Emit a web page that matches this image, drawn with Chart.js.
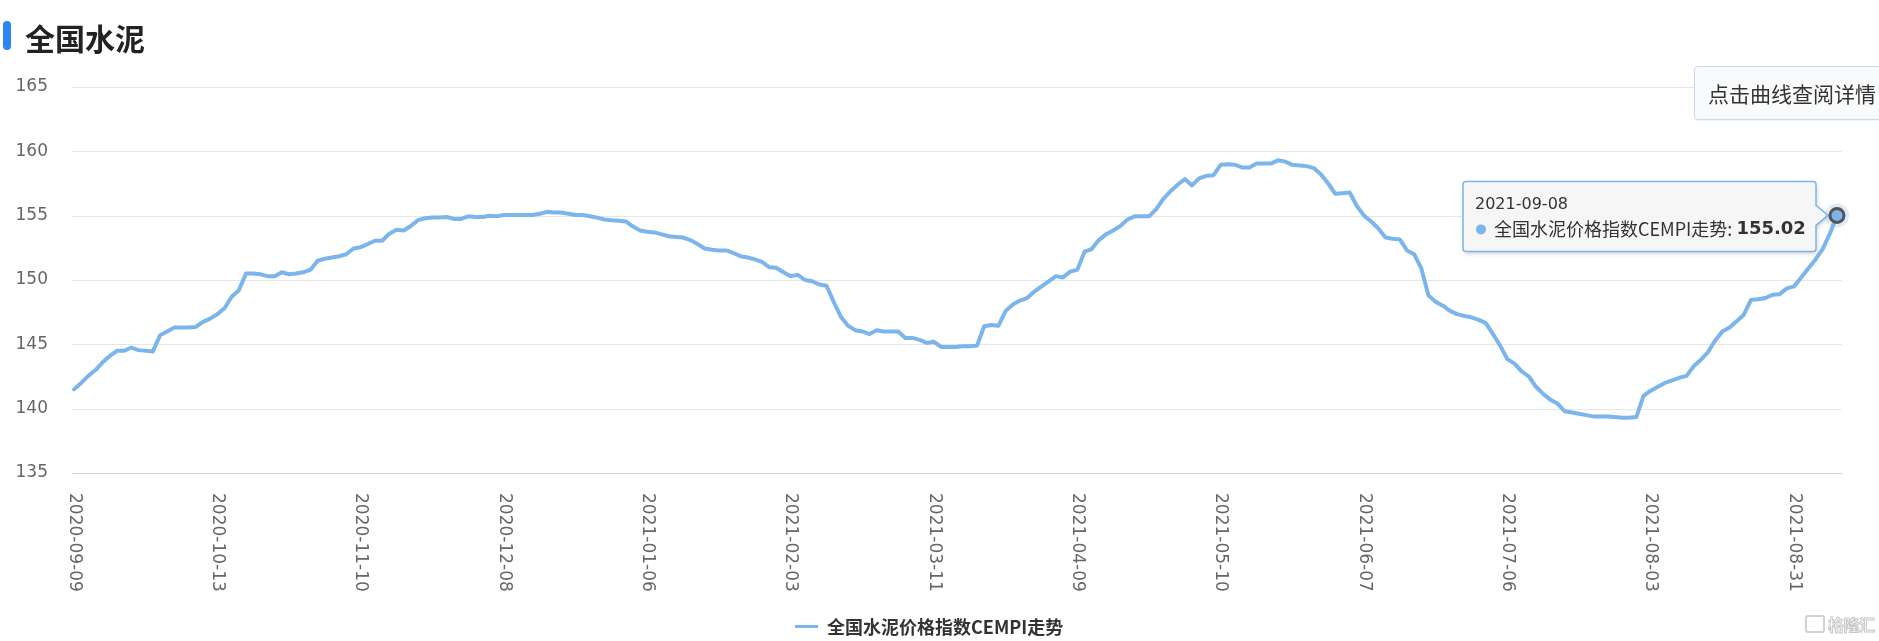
<!DOCTYPE html>
<html>
<head>
<meta charset="utf-8">
<script src="https://cdn.jsdelivr.net/npm/chart.js@4.4.1/dist/chart.umd.min.js"></script>
<style>
html,body{margin:0;padding:0;background:#fff;width:1879px;height:641px;overflow:hidden;}
#wrap{position:relative;width:1879px;height:641px;}
#c{position:absolute;left:0;top:0;}
.bar{position:absolute;left:3px;top:21px;width:8px;height:29px;border-radius:4px;background:#2b86f4;}
.title{position:absolute;left:25px;top:15px;font-weight:bold;font-size:30px;font-family:"Noto Sans CJK SC",sans-serif;color:#222;line-height:44px;white-space:nowrap;}
.btn{position:absolute;left:1694px;top:66px;width:210px;height:52px;border:1px solid #c6dbf1;border-radius:4px;background:#f9fafb;box-shadow:0 1px 2px rgba(0,0,0,0.06);}
.btn span{position:absolute;left:13px;top:0;line-height:52px;font-size:21px;font-family:"Noto Sans CJK SC",sans-serif;color:#333;white-space:nowrap;}
.legend{position:absolute;left:795px;top:613px;height:26px;display:flex;align-items:center;white-space:nowrap;}
.legend i{display:inline-block;width:23px;height:3px;background:#7cb5ec;margin-right:9px;}
.legend span{font-weight:bold;font-size:18px;font-family:"Noto Sans CJK SC",sans-serif;color:#333;}
.wm{position:absolute;left:1805px;top:612px;display:flex;align-items:center;white-space:nowrap;}
.wm b{display:inline-block;width:20px;height:18px;border:2px solid #d2d2d2;border-radius:3px;margin-right:3px;box-sizing:border-box;}
.wm span{font-size:16px;font-weight:bold;font-family:"Noto Sans CJK SC",sans-serif;color:#fff;-webkit-text-stroke:1px #c8c8c8;letter-spacing:-0.5px;}
</style>
</head>
<body>
<div id="wrap">
<canvas id="c" width="1879" height="641"></canvas>
<div class="bar"></div>
<div class="title">全国水泥</div>
<div class="btn"><span>点击曲线查阅详情</span></div>
<div class="legend"><i></i><span id="legendText"></span></div>
<div class="wm"><b></b><span>格隆汇</span></div>
</div>
<script>
const titleText = '全国水泥';
const seriesName = '全国水泥价格指数CEMPI走势';

const categories = [
'2020-09-09','2020-09-10','2020-09-11','2020-09-14','2020-09-15','2020-09-16','2020-09-17','2020-09-18','2020-09-21','2020-09-22',
'2020-09-23','2020-09-24','2020-09-25','2020-09-27','2020-09-28','2020-09-29','2020-09-30','2020-10-09','2020-10-10','2020-10-12',
'2020-10-13','2020-10-14','2020-10-15','2020-10-16','2020-10-19','2020-10-20','2020-10-21','2020-10-22','2020-10-23','2020-10-26',
'2020-10-27','2020-10-28','2020-10-29','2020-10-30','2020-11-02','2020-11-03','2020-11-04','2020-11-05','2020-11-06','2020-11-09',
'2020-11-10','2020-11-11','2020-11-12','2020-11-13','2020-11-16','2020-11-17','2020-11-18','2020-11-19','2020-11-20','2020-11-23',
'2020-11-24','2020-11-25','2020-11-26','2020-11-27','2020-11-30','2020-12-01','2020-12-02','2020-12-03','2020-12-04','2020-12-07',
'2020-12-08','2020-12-09','2020-12-10','2020-12-11','2020-12-14','2020-12-15','2020-12-16','2020-12-17','2020-12-18','2020-12-21',
'2020-12-22','2020-12-23','2020-12-24','2020-12-25','2020-12-28','2020-12-29','2020-12-30','2020-12-31','2021-01-04','2021-01-05',
'2021-01-06','2021-01-07','2021-01-08','2021-01-11','2021-01-12','2021-01-13','2021-01-14','2021-01-15','2021-01-18','2021-01-19',
'2021-01-20','2021-01-21','2021-01-22','2021-01-25','2021-01-26','2021-01-27','2021-01-28','2021-01-29','2021-02-01','2021-02-02',
'2021-02-03','2021-02-04','2021-02-05','2021-02-08','2021-02-09','2021-02-18','2021-02-19','2021-02-22','2021-02-23','2021-02-24',
'2021-02-25','2021-02-26','2021-03-01','2021-03-02','2021-03-03','2021-03-04','2021-03-05','2021-03-08','2021-03-09','2021-03-10',
'2021-03-11','2021-03-12','2021-03-15','2021-03-16','2021-03-17','2021-03-18','2021-03-19','2021-03-22','2021-03-23','2021-03-24',
'2021-03-25','2021-03-26','2021-03-29','2021-03-30','2021-03-31','2021-04-01','2021-04-02','2021-04-06','2021-04-07','2021-04-08',
'2021-04-09','2021-04-12','2021-04-13','2021-04-14','2021-04-15','2021-04-16','2021-04-19','2021-04-20','2021-04-21','2021-04-22',
'2021-04-23','2021-04-25','2021-04-26','2021-04-27','2021-04-28','2021-04-29','2021-04-30','2021-05-06','2021-05-07','2021-05-08',
'2021-05-10','2021-05-11','2021-05-12','2021-05-13','2021-05-14','2021-05-17','2021-05-18','2021-05-19','2021-05-20','2021-05-21',
'2021-05-24','2021-05-25','2021-05-26','2021-05-27','2021-05-28','2021-05-31','2021-06-01','2021-06-02','2021-06-03','2021-06-04',
'2021-06-07','2021-06-08','2021-06-09','2021-06-10','2021-06-11','2021-06-15','2021-06-16','2021-06-17','2021-06-18','2021-06-21',
'2021-06-22','2021-06-23','2021-06-24','2021-06-25','2021-06-28','2021-06-29','2021-06-30','2021-07-01','2021-07-02','2021-07-05',
'2021-07-06','2021-07-07','2021-07-08','2021-07-09','2021-07-12','2021-07-13','2021-07-14','2021-07-15','2021-07-16','2021-07-19',
'2021-07-20','2021-07-21','2021-07-22','2021-07-23','2021-07-26','2021-07-27','2021-07-28','2021-07-29','2021-07-30','2021-08-02',
'2021-08-03','2021-08-04','2021-08-05','2021-08-06','2021-08-09','2021-08-10','2021-08-11','2021-08-12','2021-08-13','2021-08-16',
'2021-08-17','2021-08-18','2021-08-19','2021-08-20','2021-08-23','2021-08-24','2021-08-25','2021-08-26','2021-08-27','2021-08-30',
'2021-08-31','2021-09-01','2021-09-02','2021-09-03','2021-09-06','2021-09-07','2021-09-08'
];

const cempiValues = [
141.5,142.0,142.55,143.0,143.6,144.1,144.5,144.5,144.75,144.55,144.5,144.45,145.7,146.0,146.3,146.3,146.3,146.35,146.75,147.0,
147.35,147.8,148.7,149.2,150.5,150.5,150.45,150.3,150.3,150.6,150.45,150.5,150.6,150.8,151.5,151.65,151.75,151.85,152.0,152.45,
152.55,152.8,153.05,153.05,153.6,153.9,153.85,154.2,154.65,154.8,154.85,154.85,154.9,154.75,154.75,154.95,154.9,154.9,155.0,154.95,
155.05,155.05,155.05,155.05,155.05,155.15,155.3,155.25,155.25,155.15,155.05,155.05,154.95,154.85,154.7,154.65,154.6,154.55,154.15,153.85,
153.75,153.7,153.55,153.4,153.35,153.3,153.1,152.8,152.45,152.35,152.3,152.3,152.1,151.85,151.75,151.6,151.4,151.0,150.95,150.6,
150.3,150.4,150.0,149.9,149.65,149.55,148.3,147.15,146.45,146.1,146.0,145.8,146.1,146.0,146.0,146.0,145.5,145.5,145.35,145.1,
145.2,144.8,144.8,144.8,144.85,144.85,144.9,146.4,146.5,146.45,147.6,148.1,148.4,148.6,149.1,149.5,149.9,150.3,150.2,150.65,
150.8,152.2,152.4,153.1,153.55,153.85,154.2,154.7,154.95,154.95,154.95,155.5,156.3,156.9,157.4,157.85,157.35,157.9,158.1,158.15,
158.95,159.0,158.95,158.75,158.75,159.05,159.05,159.05,159.3,159.2,158.95,158.9,158.85,158.7,158.2,157.5,156.7,156.75,156.8,155.75,
155.0,154.55,154.0,153.3,153.2,153.15,152.3,152.0,150.9,148.8,148.3,148.0,147.6,147.35,147.2,147.1,146.9,146.65,145.8,144.9,
143.85,143.5,142.9,142.5,141.7,141.15,140.7,140.4,139.8,139.7,139.6,139.5,139.4,139.4,139.4,139.35,139.3,139.3,139.35,141.0,
141.4,141.7,142.0,142.2,142.4,142.55,143.3,143.8,144.4,145.3,146.0,146.3,146.8,147.3,148.45,148.5,148.6,148.85,148.9,149.35,
149.5,150.2,150.9,151.6,152.4,153.6,155.02
];

const yTicks = [135, 140, 145, 150, 155, 160, 165];
const xTickLabels = ['2020-09-09','2020-10-13','2020-11-10','2020-12-08','2021-01-06','2021-02-03','2021-03-11',
  '2021-04-09','2021-05-10','2021-06-07','2021-07-06','2021-08-03','2021-08-31'];
const tooltipDate = '2021-09-08';

document.getElementById('legendText').textContent = seriesName;

const LINE_COLOR = '#7cb5ec';

const decorPlugin = {
  id: 'decor',
  beforeDatasetsDraw(chart) {
    const ctx = chart.ctx, y = chart.scales.y, a = chart.chartArea;
    ctx.save();
    yTicks.forEach(v => {
      const py = Math.round(y.getPixelForValue(v)) + 0.5;
      ctx.strokeStyle = v === yTicks[0] ? '#ccd6eb' : '#e6e6e6';
      ctx.lineWidth = 1;
      ctx.beginPath();
      ctx.moveTo(a.left - 2, py);
      ctx.lineTo(a.right + 5, py);
      ctx.stroke();
    });
    ctx.restore();
  },
  afterDraw(chart) {
    const ctx = chart.ctx, x = chart.scales.x, a = chart.chartArea;
    ctx.save();
    ctx.fillStyle = '#666';
    ctx.font = '17px "DejaVu Sans"';
    ctx.textAlign = 'left';
    ctx.textBaseline = 'middle';
    xTickLabels.forEach(lbl => {
      const i = categories.indexOf(lbl);
      const px = x.getPixelForValue(i);
      ctx.save();
      ctx.translate(px, a.bottom + 20);
      ctx.rotate(Math.PI / 2);
      ctx.fillText(lbl, 0, 0);
      ctx.restore();
    });
    ctx.restore();

    const idx = categories.indexOf(tooltipDate);
    const p = chart.getDatasetMeta(0).data[idx];
    const px = p.x, py = p.y;
    const bw = 353, bh = 70;
    const bx = px - 374, by = py - 34;
    const r = 3;
    ctx.save();
    ctx.beginPath();
    ctx.moveTo(bx + r, by);
    ctx.lineTo(bx + bw - r, by);
    ctx.arcTo(bx + bw, by, bx + bw, by + r, r);
    ctx.lineTo(bx + bw, py - 10);
    ctx.lineTo(px - 9, py);
    ctx.lineTo(bx + bw, py + 10);
    ctx.lineTo(bx + bw, by + bh - r);
    ctx.arcTo(bx + bw, by + bh, bx + bw - r, by + bh, r);
    ctx.lineTo(bx + r, by + bh);
    ctx.arcTo(bx, by + bh, bx, by + bh - r, r);
    ctx.lineTo(bx, by + r);
    ctx.arcTo(bx, by, bx + r, by, r);
    ctx.closePath();
    ctx.shadowColor = 'rgba(0,0,0,0.2)';
    ctx.shadowBlur = 4;
    ctx.shadowOffsetX = 1;
    ctx.shadowOffsetY = 2;
    ctx.fillStyle = 'rgba(247,247,247,0.97)';
    ctx.fill();
    ctx.shadowColor = 'transparent';
    ctx.strokeStyle = LINE_COLOR;
    ctx.lineWidth = 1.5;
    ctx.stroke();

    ctx.fillStyle = '#333';
    ctx.textBaseline = 'middle';
    ctx.textAlign = 'left';
    ctx.font = '16px "DejaVu Sans"';
    ctx.fillText(tooltipDate, bx + 12, py - 11);

    ctx.fillStyle = LINE_COLOR;
    ctx.beginPath();
    ctx.arc(bx + 18, py + 14, 5, 0, Math.PI * 2);
    ctx.fill();

    ctx.fillStyle = '#333';
    ctx.font = '18px "Noto Sans CJK SC"';
    const t1 = seriesName + ': ';
    ctx.fillText(t1, bx + 31, py + 14);
    const w1 = ctx.measureText(t1).width;
    ctx.font = 'bold 18px "DejaVu Sans"';
    ctx.fillText(cempiValues[idx].toFixed(2), bx + 31 + w1, py + 14);

    ctx.fillStyle = 'rgba(124,181,236,0.25)';
    ctx.beginPath();
    ctx.arc(px, py, 12, 0, Math.PI * 2);
    ctx.fill();
    ctx.fillStyle = LINE_COLOR;
    ctx.strokeStyle = '#555';
    ctx.lineWidth = 3;
    ctx.beginPath();
    ctx.arc(px, py, 7, 0, Math.PI * 2);
    ctx.fill();
    ctx.stroke();
    ctx.restore();
  }
};

new Chart(document.getElementById('c'), {
  type: 'line',
  data: {
    labels: categories,
    datasets: [{
      label: seriesName,
      data: cempiValues,
      borderColor: LINE_COLOR,
      borderWidth: 4,
      pointRadius: 0,
      pointHoverRadius: 0,
      tension: 0,
      fill: false,
      borderJoinStyle: 'round',
      borderCapStyle: 'round'
    }]
  },
  options: {
    responsive: false,
    animation: false,
    devicePixelRatio: 1,
    events: [],
    layout: { padding: { left: 0, top: 87, right: 42, bottom: 0 } },
    plugins: { legend: { display: false }, tooltip: { enabled: false }, title: { display: false } },
    scales: {
      x: {
        type: 'category',
        offset: false,
        grid: { display: false, drawTicks: false },
        border: { display: false },
        ticks: { display: false },
        afterFit(s) { s.height = 168; }
      },
      y: {
        min: 135, max: 165,
        afterBuildTicks(s) { s.ticks = yTicks.map(v => ({ value: v })); },
        grid: { display: false, drawTicks: false },
        border: { display: false },
        ticks: { padding: 26, color: '#666', font: { family: 'DejaVu Sans', size: 17 } },
        afterFit(s) { s.width = 74; }
      }
    }
  },
  plugins: [decorPlugin]
});
</script>
</body>
</html>
